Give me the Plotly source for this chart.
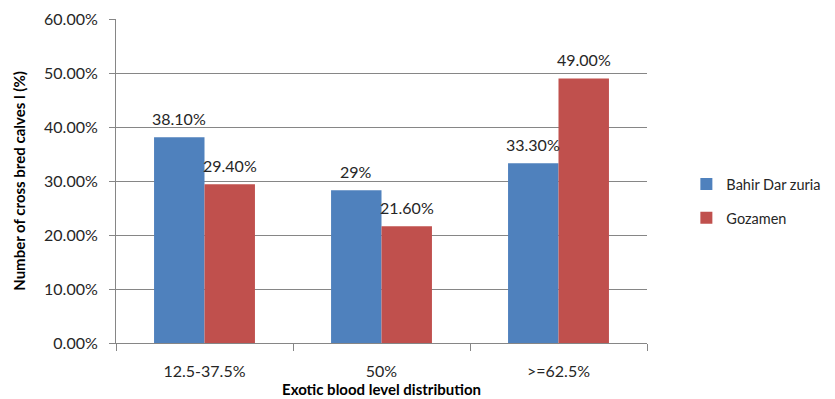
import plotly.graph_objects as go

categories = ["12.5-37.5%", "50%", ">=62.5%"]
bahir_dar = [0.381, 0.283, 0.333]
gozamen = [0.294, 0.216, 0.49]
bahir_labels = ["38.10%", "29%", "33.30%"]
gozamen_labels = ["29.40%", "21.60%", "49.00%"]
series_names = ["Bahir Dar zuria", "Gozamen"]
colors = ["#4F81BD", "#C0504D"]

FONT = "Lato"
grey = "#868686"
txt = "#262626"

fig = go.Figure()
fig.add_trace(go.Bar(x=categories, y=bahir_dar, name=series_names[0],
                     marker=dict(color=colors[0], line=dict(width=0)),
                     legendgroup="a"))
fig.add_trace(go.Bar(x=categories, y=gozamen, name=series_names[1],
                     marker=dict(color=colors[1], line=dict(width=0)),
                     legendgroup="b"))

bargap = 0.43
half = (1 - bargap) / 4
for i, cat in enumerate(categories):
    for off, vals, labs in ((-half, bahir_dar, bahir_labels), (half, gozamen, gozamen_labels)):
        fig.add_annotation(x=i + off, y=vals[i], xref="x", yref="y", text=labs[i],
                           showarrow=False, yshift=19, yanchor="middle",
                           font=dict(family=FONT, size=16, color=txt))

fig.update_layout(
    width=835, height=399,
    margin=dict(l=116, r=188, t=19, b=56, autoexpand=False),
    paper_bgcolor="white", plot_bgcolor="white",
    barmode="group", bargap=bargap, bargroupgap=0,
    font=dict(family=FONT, size=16, color=txt),
    showlegend=True,
    legend=dict(x=0.822, xanchor="left", y=0.496, yanchor="middle",
                xref="container", yref="container",
                font=dict(family=FONT, size=14.5, color=txt),
                tracegroupgap=12, itemwidth=30,
                bgcolor="rgba(0,0,0,0)"),
    xaxis=dict(
        type="category", automargin=False,
        showline=True, linecolor=grey, linewidth=1,
        ticks="outside", tickson="boundaries", ticklen=7, tickcolor=grey,
        ticklabelstandoff=14,
        showgrid=False, tickfont=dict(family=FONT, size=16, color=txt),
        title=dict(text="<b>Exotic blood level distribution</b>",
                   font=dict(family=FONT, size=15, color="black"), standoff=2),
    ),
    yaxis=dict(
        range=[0, 0.6], dtick=0.1, tickformat=".2%", automargin=False,
        showline=True, linecolor=grey, linewidth=1,
        ticks="outside", ticklen=6, tickcolor=grey,
        ticklabelstandoff=8,
        showgrid=True, gridcolor=grey, gridwidth=1,
        zeroline=False,
        tickfont=dict(family=FONT, size=16, color=txt),
        title=dict(text="<b>Number of cross bred calves l (%)</b>",
                   font=dict(family=FONT, size=15, color="black"), standoff=14),
    ),
)

fig.write_html("out.html")
